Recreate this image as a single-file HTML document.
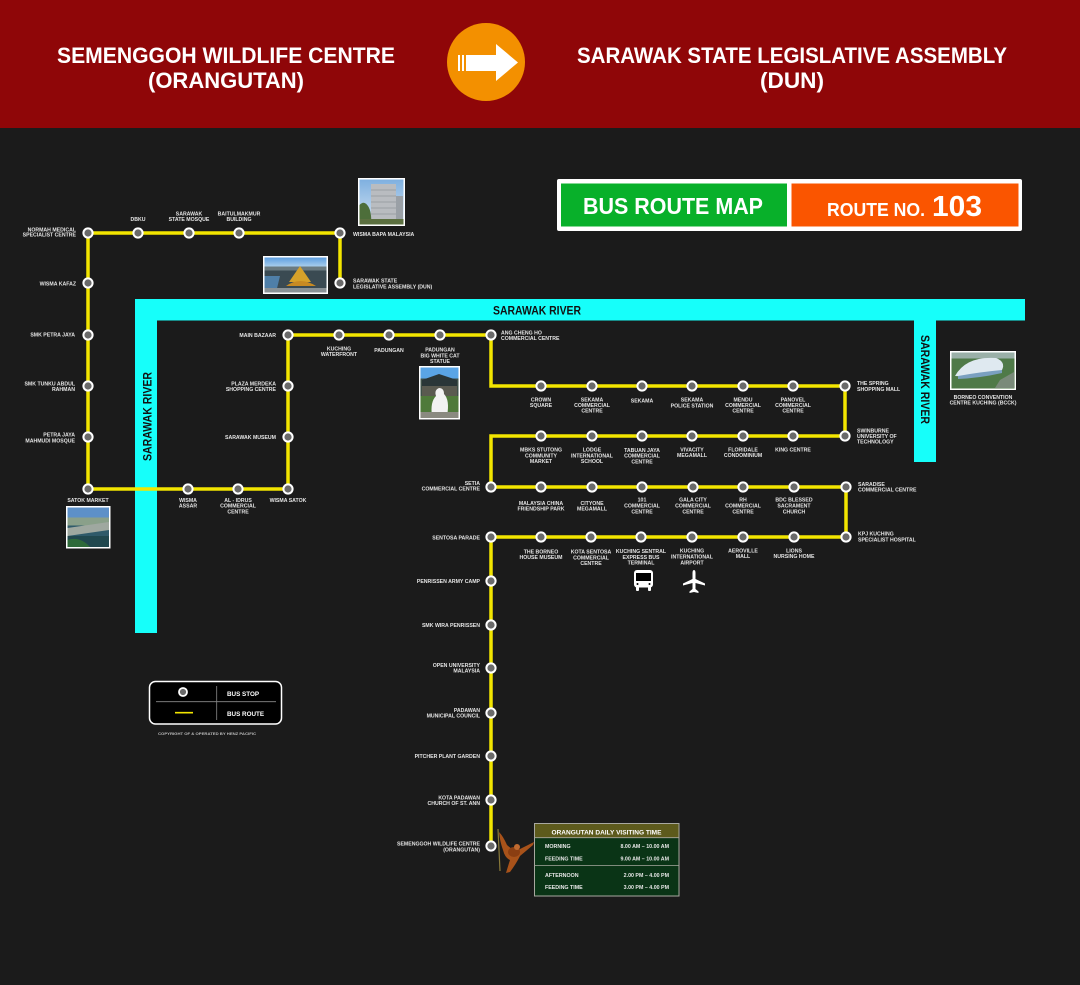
<!DOCTYPE html>
<html><head><meta charset="utf-8">
<style>
html,body{margin:0;padding:0;background:#1b1b1b;}
svg{display:block;}
.l{font-family:"Liberation Sans",sans-serif;font-weight:bold;font-size:5.2px;fill:#e4e4e4;}
.m{text-anchor:middle;}
.e{text-anchor:end;}
.h{font-family:"Liberation Sans",sans-serif;font-weight:bold;fill:#fff;}
</style></head>
<body>
<svg width="1080" height="985" viewBox="0 0 1080 985" xmlns="http://www.w3.org/2000/svg">
<rect x="0" y="0" width="1080" height="985" fill="#1b1b1b"/>
<!-- header -->
<rect x="0" y="0" width="1080" height="128" fill="#8f0608"/>
<text class="h" x="57" y="63" font-size="22" textLength="338" lengthAdjust="spacingAndGlyphs">SEMENGGOH WILDLIFE CENTRE</text>
<text class="h" x="148" y="88" font-size="22" textLength="156" lengthAdjust="spacingAndGlyphs">(ORANGUTAN)</text>
<text class="h" x="577" y="63" font-size="22" textLength="430" lengthAdjust="spacingAndGlyphs">SARAWAK STATE LEGISLATIVE ASSEMBLY</text>
<text class="h" x="760" y="88" font-size="22" textLength="64" lengthAdjust="spacingAndGlyphs">(DUN)</text>
<circle cx="486" cy="62" r="39" fill="#f39000"/>
<path d="M466,55 H496 V44 L518,62.5 L496,81 V71 H466 Z" fill="#fff"/>
<rect x="458" y="55" width="2" height="16" fill="#fff"/>
<rect x="462" y="55" width="2" height="16" fill="#fff"/>

<!-- bus route map box -->
<rect x="557" y="179" width="465" height="52" fill="#fff" rx="2"/>
<rect x="561" y="183.5" width="226" height="43" fill="#08b02a"/>
<rect x="791.5" y="183.5" width="227" height="43" fill="#fa5500"/>
<text class="h" x="583" y="214" font-size="23" textLength="180" lengthAdjust="spacingAndGlyphs">BUS ROUTE MAP</text>
<text class="h" x="827" y="216" font-size="18" textLength="98" lengthAdjust="spacingAndGlyphs">ROUTE NO.</text>
<text class="h" x="932" y="216" font-size="29" textLength="50" lengthAdjust="spacingAndGlyphs">103</text>

<!-- rivers -->
<g fill="#16fffa">
<rect x="135" y="299" width="890" height="21.5"/>
<rect x="135" y="299" width="22" height="334"/>
<rect x="914" y="299" width="22" height="163"/>
</g>
<text x="493" y="314.3" font-family="Liberation Sans,sans-serif" font-weight="bold" font-size="12" fill="#111" textLength="88" lengthAdjust="spacingAndGlyphs">SARAWAK RIVER</text>
<text transform="translate(151.7,461) rotate(-90)" x="0" y="0" font-family="Liberation Sans,sans-serif" font-weight="bold" font-size="12" fill="#111" textLength="89" lengthAdjust="spacingAndGlyphs">SARAWAK RIVER</text>
<text transform="translate(921,335) rotate(90)" x="0" y="0" font-family="Liberation Sans,sans-serif" font-weight="bold" font-size="12" fill="#111" textLength="89" lengthAdjust="spacingAndGlyphs">SARAWAK RIVER</text>

<!-- route -->
<path d="M340,283 V233 H88 V489 H288 V335 H491 V386 H845 V436 H491 V487 H846 V537 H491 V846" fill="none" stroke="#f2e500" stroke-width="3.5" stroke-linejoin="miter"/>

<!-- stops -->
<g fill="#6a6a6a" stroke="#fff" stroke-width="2">
<circle cx="88" cy="233" r="4.6"/><circle cx="138" cy="233" r="4.6"/><circle cx="189" cy="233" r="4.6"/><circle cx="239" cy="233" r="4.6"/><circle cx="340" cy="233" r="4.6"/><circle cx="340" cy="283" r="4.6"/>
<circle cx="88" cy="283" r="4.6"/><circle cx="88" cy="335" r="4.6"/><circle cx="88" cy="386" r="4.6"/><circle cx="88" cy="437" r="4.6"/><circle cx="88" cy="489" r="4.6"/>
<circle cx="188" cy="489" r="4.6"/><circle cx="238" cy="489" r="4.6"/><circle cx="288" cy="489" r="4.6"/>
<circle cx="288" cy="437" r="4.6"/><circle cx="288" cy="386" r="4.6"/><circle cx="288" cy="335" r="4.6"/>
<circle cx="339" cy="335" r="4.6"/><circle cx="389" cy="335" r="4.6"/><circle cx="440" cy="335" r="4.6"/><circle cx="491" cy="335" r="4.6"/>
<circle cx="541" cy="386" r="4.6"/><circle cx="592" cy="386" r="4.6"/><circle cx="642" cy="386" r="4.6"/><circle cx="692" cy="386" r="4.6"/><circle cx="743" cy="386" r="4.6"/><circle cx="793" cy="386" r="4.6"/><circle cx="845" cy="386" r="4.6"/>
<circle cx="845" cy="436" r="4.6"/><circle cx="793" cy="436" r="4.6"/><circle cx="743" cy="436" r="4.6"/><circle cx="692" cy="436" r="4.6"/><circle cx="642" cy="436" r="4.6"/><circle cx="592" cy="436" r="4.6"/><circle cx="541" cy="436" r="4.6"/>
<circle cx="491" cy="487" r="4.6"/><circle cx="541" cy="487" r="4.6"/><circle cx="592" cy="487" r="4.6"/><circle cx="642" cy="487" r="4.6"/><circle cx="693" cy="487" r="4.6"/><circle cx="743" cy="487" r="4.6"/><circle cx="794" cy="487" r="4.6"/><circle cx="846" cy="487" r="4.6"/>
<circle cx="846" cy="537" r="4.6"/><circle cx="794" cy="537" r="4.6"/><circle cx="743" cy="537" r="4.6"/><circle cx="692" cy="537" r="4.6"/><circle cx="641" cy="537" r="4.6"/><circle cx="591" cy="537" r="4.6"/><circle cx="541" cy="537" r="4.6"/><circle cx="491" cy="537" r="4.6"/>
<circle cx="491" cy="581" r="4.6"/><circle cx="491" cy="625" r="4.6"/><circle cx="491" cy="668" r="4.6"/><circle cx="491" cy="713" r="4.6"/><circle cx="491" cy="756" r="4.6"/><circle cx="491" cy="800" r="4.6"/><circle cx="491" cy="846" r="4.6"/>
</g>

<!-- labels -->
<g class="l">
<text class="e" x="76" y="231.3">NORMAH MEDICAL</text><text class="e" x="76" y="236.7">SPECIALIST CENTRE</text>
<text class="m" x="138" y="221">DBKU</text>
<text class="m" x="189" y="215.7">SARAWAK</text><text class="m" x="189" y="221">STATE MOSQUE</text>
<text class="m" x="239" y="215.7">BAITULMAKMUR</text><text class="m" x="239" y="221">BUILDING</text>
<text x="353" y="236">WISMA BAPA MALAYSIA</text>
<text x="353" y="282.7">SARAWAK STATE</text><text x="353" y="288.3">LEGISLATIVE ASSEMBLY (DUN)</text>
<text class="e" x="76" y="285.7">WISMA KAFAZ</text>
<text class="e" x="75" y="336.7">SMK PETRA JAYA</text>
<text class="e" x="75" y="385.3">SMK TUNKU ABDUL</text><text class="e" x="75" y="391">RAHMAN</text>
<text class="e" x="75" y="436.7">PETRA JAYA</text><text class="e" x="75" y="442.3">MAHMUDI MOSQUE</text>
<text class="m" x="88" y="502">SATOK MARKET</text>
<text class="m" x="188" y="502">WISMA</text><text class="m" x="188" y="507.7">ASSAR</text>
<text class="m" x="238" y="502">AL - IDRUS</text><text class="m" x="238" y="507.7">COMMERCIAL</text><text class="m" x="238" y="513.3">CENTRE</text>
<text class="m" x="288" y="502">WISMA SATOK</text>
<text class="e" x="276" y="337">MAIN BAZAAR</text>
<text class="e" x="276" y="385.3">PLAZA MERDEKA</text><text class="e" x="276" y="391">SHOPPING CENTRE</text>
<text class="e" x="276" y="439">SARAWAK MUSEUM</text>
<text class="m" x="339" y="350.7">KUCHING</text><text class="m" x="339" y="356">WATERFRONT</text>
<text class="m" x="389" y="352">PADUNGAN</text>
<text class="m" x="440" y="351.7">PADUNGAN</text><text class="m" x="440" y="357.3">BIG WHITE CAT</text><text class="m" x="440" y="363">STATUE</text>
<text x="501" y="334.3">ANG CHENG HO</text><text x="501" y="340">COMMERCIAL CENTRE</text>
<text class="m" x="541" y="401.3">CROWN</text><text class="m" x="541" y="407">SQUARE</text>
<text class="m" x="592" y="401.3">SEKAMA</text><text class="m" x="592" y="407">COMMERCIAL</text><text class="m" x="592" y="412.7">CENTRE</text>
<text class="m" x="642" y="402.7">SEKAMA</text>
<text class="m" x="692" y="401.7">SEKAMA</text><text class="m" x="692" y="407.7">POLICE STATION</text>
<text class="m" x="743" y="401.3">MENDU</text><text class="m" x="743" y="407">COMMERCIAL</text><text class="m" x="743" y="412.7">CENTRE</text>
<text class="m" x="793" y="401.3">PANOVEL</text><text class="m" x="793" y="407">COMMERCIAL</text><text class="m" x="793" y="412.7">CENTRE</text>
<text x="857" y="385">THE SPRING</text><text x="857" y="391">SHOPPING MALL</text>
<text x="857" y="432.3">SWINBURNE</text><text x="857" y="438">UNIVERSITY OF</text><text x="857" y="443.7">TECHNOLOGY</text>
<text class="m" x="541" y="451.7">MBKS STUTONG</text><text class="m" x="541" y="457.3">COMMUNITY</text><text class="m" x="541" y="463">MARKET</text>
<text class="m" x="592" y="451.7">LODGE</text><text class="m" x="592" y="457.3">INTERNATIONAL</text><text class="m" x="592" y="463">SCHOOL</text>
<text class="m" x="642" y="452">TABUAN JAYA</text><text class="m" x="642" y="457.7">COMMERCIAL</text><text class="m" x="642" y="463.3">CENTRE</text>
<text class="m" x="692" y="451.3">VIVACITY</text><text class="m" x="692" y="457">MEGAMALL</text>
<text class="m" x="743" y="451.7">FLORIDALE</text><text class="m" x="743" y="457">CONDOMINIUM</text>
<text class="m" x="793" y="451.7">KING CENTRE</text>
<text class="e" x="480" y="485">SETIA</text><text class="e" x="480" y="490.7">COMMERCIAL CENTRE</text>
<text class="m" x="541" y="505">MALAYSIA CHINA</text><text class="m" x="541" y="510.7">FRIENDSHIP PARK</text>
<text class="m" x="592" y="505">CITYONE</text><text class="m" x="592" y="510.7">MEGAMALL</text>
<text class="m" x="642" y="501.7">101</text><text class="m" x="642" y="507.7">COMMERCIAL</text><text class="m" x="642" y="513.3">CENTRE</text>
<text class="m" x="693" y="501.7">GALA CITY</text><text class="m" x="693" y="507.7">COMMERCIAL</text><text class="m" x="693" y="513.3">CENTRE</text>
<text class="m" x="743" y="501.7">RH</text><text class="m" x="743" y="507.7">COMMERCIAL</text><text class="m" x="743" y="513.3">CENTRE</text>
<text class="m" x="794" y="501.7">BDC BLESSED</text><text class="m" x="794" y="507.7">SACRAMENT</text><text class="m" x="794" y="513.3">CHURCH</text>
<text x="858" y="486">SARADISE</text><text x="858" y="491.3">COMMERCIAL CENTRE</text>
<text x="858" y="535.7">KPJ KUCHING</text><text x="858" y="541.3">SPECIALIST HOSPITAL</text>
<text class="e" x="480" y="539.3">SENTOSA PARADE</text>
<text class="m" x="541" y="553.3">THE BORNEO</text><text class="m" x="541" y="559">HOUSE MUSEUM</text>
<text class="m" x="591" y="553.7">KOTA SENTOSA</text><text class="m" x="591" y="559.3">COMMERCIAL</text><text class="m" x="591" y="565">CENTRE</text>
<text class="m" x="641" y="553">KUCHING SENTRAL</text><text class="m" x="641" y="559">EXPRESS BUS</text><text class="m" x="641" y="564.7">TERMINAL</text>
<text class="m" x="692" y="552.3">KUCHING</text><text class="m" x="692" y="558.3">INTERNATIONAL</text><text class="m" x="692" y="564.3">AIRPORT</text>
<text class="m" x="743" y="552.3">AEROVILLE</text><text class="m" x="743" y="558">MALL</text>
<text class="m" x="794" y="552.3">LIONS</text><text class="m" x="794" y="558">NURSING HOME</text>
<text class="e" x="480" y="583">PENRISSEN ARMY CAMP</text>
<text class="e" x="480" y="627">SMK WIRA PENRISSEN</text>
<text class="e" x="480" y="667">OPEN UNIVERSITY</text><text class="e" x="480" y="672.7">MALAYSIA</text>
<text class="e" x="480" y="712">PADAWAN</text><text class="e" x="480" y="717.3">MUNICIPAL COUNCIL</text>
<text class="e" x="480" y="758">PITCHER PLANT GARDEN</text>
<text class="e" x="480" y="799.3">KOTA PADAWAN</text><text class="e" x="480" y="805">CHURCH OF ST. ANN</text>
<text class="e" x="480" y="845.7">SEMENGGOH WILDLIFE CENTRE</text><text class="e" x="480" y="851.3">(ORANGUTAN)</text>
<text class="m" x="983" y="399">BORNEO CONVENTION</text><text class="m" x="983" y="404.7">CENTRE KUCHING (BCCK)</text>
</g>

<!-- photos -->
<defs>
<linearGradient id="sky1" x1="0" y1="0" x2="0" y2="1"><stop offset="0" stop-color="#7fb0e0"/><stop offset="1" stop-color="#d4e4f2"/></linearGradient>
<linearGradient id="sky2" x1="0" y1="0" x2="0" y2="1"><stop offset="0" stop-color="#5d9ee0"/><stop offset="1" stop-color="#a8cdeb"/></linearGradient>
</defs>
<!-- Wisma Bapa -->
<rect x="358" y="178" width="47" height="48" fill="#fff"/>
<rect x="359.5" y="179.5" width="44" height="45" fill="url(#sky1)"/>
<rect x="371" y="184" width="25" height="38" fill="#b9bcc0"/>
<g stroke="#7d8288" stroke-width="0.6"><line x1="371" y1="190" x2="396" y2="190"/><line x1="371" y1="196" x2="396" y2="196"/><line x1="371" y1="202" x2="396" y2="202"/><line x1="371" y1="208" x2="396" y2="208"/><line x1="371" y1="214" x2="396" y2="214"/></g>
<rect x="396" y="196" width="7" height="26" fill="#9aa0a6"/>
<path d="M359.5,224.5 V205 Q364,200 368,206 Q372,212 371,224.5 Z" fill="#4d6e3a"/>
<rect x="359.5" y="219" width="44" height="5.5" fill="#5c7040"/>
<!-- DUN -->
<rect x="263" y="256" width="65" height="38" fill="#fff"/>
<rect x="264.5" y="257.5" width="62" height="35" fill="#3a4a52"/>
<rect x="264.5" y="257.5" width="62" height="9" fill="url(#sky2)"/>
<rect x="264.5" y="266.5" width="62" height="4" fill="#6a7a80"/>
<path d="M289,282 L300,266 L311,282 Z" fill="#d6a12a"/>
<path d="M286,286 Q300,276 316,286 Z" fill="#c88a22"/>
<path d="M264.5,276 H280 L276,292.5 H264.5 Z" fill="#4f7fa8"/>
<rect x="264.5" y="288" width="62" height="4.5" fill="#8a9296"/>
<!-- Satok -->
<rect x="66" y="506" width="44.5" height="42.5" fill="#fff"/>
<rect x="67.5" y="507.5" width="41.5" height="39.5" fill="#2f5a6a"/>
<rect x="67.5" y="507.5" width="41.5" height="10" fill="#5d90c8"/>
<rect x="67.5" y="517.5" width="41.5" height="8" fill="#8aa08a"/>
<path d="M67.5,528 L109,522 V530 L67.5,536 Z" fill="#9fa8a0"/>
<rect x="67.5" y="536" width="41.5" height="11" fill="#21484f"/>
<path d="M67.5,540 Q80,536 90,547 H67.5 Z" fill="#2e6a3a"/>
<!-- Cat statue -->
<rect x="419" y="366" width="41" height="53.5" fill="#fff"/>
<rect x="420.5" y="367.5" width="38" height="50.5" fill="#3f5048"/>
<rect x="420.5" y="367.5" width="38" height="11" fill="#5aa5e6"/>
<path d="M422,380 L439,374 L457,380 V386 H422 Z" fill="#2a3638"/>
<rect x="422" y="386" width="35" height="14" fill="#5a5a50"/>
<rect x="420.5" y="396" width="38" height="22" fill="#4f7a3a"/>
<path d="M432,416 Q430,402 436,396 Q434,390 439,388 Q444,388 444,394 Q450,400 447,416 Z" fill="#f2f2f2"/>
<rect x="420.5" y="412" width="38" height="6" fill="#8a8a80"/>
<!-- BCCK -->
<rect x="950" y="351" width="66" height="39" fill="#fff"/>
<rect x="951.5" y="352.5" width="63" height="36" fill="#4f7a48"/>
<rect x="951.5" y="352.5" width="63" height="6" fill="#9ab0a8"/>
<path d="M955,376 Q966,356 996,358 Q1006,362 1002,370 Q984,378 955,376 Z" fill="#dfe9f0"/>
<path d="M958,376 Q980,372 1002,370 L1002,373 Q980,378 958,379 Z" fill="#7aa0c0"/>
<path d="M1000,380 L1014,372 V388 H995 Z" fill="#7a8a7a"/>

<!-- bus icon -->
<rect x="634" y="570" width="19" height="17.5" rx="3" fill="#fff"/>
<rect x="636" y="573" width="15" height="8" fill="#000"/>
<rect x="636" y="586" width="3" height="5" rx="1" fill="#fff"/>
<rect x="648" y="586" width="3" height="5" rx="1" fill="#fff"/>
<circle cx="637.5" cy="584" r="1" fill="#000"/><circle cx="649.5" cy="584" r="1" fill="#000"/>
<!-- plane icon -->
<path d="M694,570 Q695.5,570 695.5,573 V579 L705,583.5 V585.5 L695.5,583 V589 L698.5,591.5 V593 L694,592 L689.5,593 V591.5 L692.5,589 V583 L683,585.5 V583.5 L692.5,579 V573 Q692.5,570 694,570 Z" fill="#fff"/>

<!-- legend -->
<rect x="149.5" y="681.5" width="132" height="42.5" rx="6" fill="#000" stroke="#fff" stroke-width="1.5"/>
<line x1="156" y1="701.7" x2="276" y2="701.7" stroke="#8a8a8a" stroke-width="0.8"/>
<line x1="216.7" y1="686" x2="216.7" y2="720" stroke="#8a8a8a" stroke-width="0.8"/>
<circle cx="183" cy="692" r="4" fill="#6a6a6a" stroke="#fff" stroke-width="1.8"/>
<line x1="175" y1="712.7" x2="193" y2="712.7" stroke="#f2e500" stroke-width="1.6"/>
<text x="227" y="696" font-family="Liberation Sans,sans-serif" font-weight="bold" font-size="6.3" fill="#fff">BUS STOP</text>
<text x="227" y="716" font-family="Liberation Sans,sans-serif" font-weight="bold" font-size="6.3" fill="#fff">BUS ROUTE</text>
<text x="158" y="735" font-family="Liberation Sans,sans-serif" font-weight="bold" font-size="4" fill="#bbb" textLength="98" lengthAdjust="spacingAndGlyphs">COPYRIGHT OF &amp; OPERATED BY HENZ PACIFIC</text>

<!-- orangutan -->
<g>
<line x1="498" y1="829" x2="500" y2="871" stroke="#8a7a3a" stroke-width="1.2"/>
<path d="M499,832 Q503,836 507,845 Q512,850 518,850 Q526,846 534,842 L533,845 Q526,851 520,856 Q516,864 510,872 L506,873 Q508,866 510,860 Q505,858 503,850 Q500,842 499,832 Z" fill="#a8521a"/>
<ellipse cx="514" cy="852" rx="6" ry="5" fill="#8a3e12"/>
<circle cx="517" cy="847" r="3" fill="#c06a30"/>
</g>

<!-- orangutan table -->
<rect x="534.5" y="823.5" width="144.5" height="72.5" fill="#0a3416" stroke="#a8a8a0" stroke-width="1"/>
<rect x="535" y="824" width="143.5" height="13.5" fill="#5d5a1c"/>
<line x1="535" y1="837.7" x2="678.5" y2="837.7" stroke="#a8a8a0" stroke-width="0.8"/>
<line x1="535" y1="865.5" x2="678.5" y2="865.5" stroke="#a8a8a0" stroke-width="0.8"/>
<text x="606.5" y="834.3" text-anchor="middle" font-family="Liberation Sans,sans-serif" font-weight="bold" font-size="6.6" fill="#fff" textLength="110" lengthAdjust="spacingAndGlyphs">ORANGUTAN DAILY VISITING TIME</text>
<g font-family="Liberation Sans,sans-serif" font-weight="bold" font-size="5.3" fill="#e8e8e8">
<text x="545" y="848">MORNING</text><text x="669" y="848" text-anchor="end">8.00 AM – 10.00 AM</text>
<text x="545" y="860.3">FEEDING TIME</text><text x="669" y="860.3" text-anchor="end">9.00 AM – 10.00 AM</text>
<text x="545" y="877">AFTERNOON</text><text x="669" y="877" text-anchor="end">2.00 PM – 4.00 PM</text>
<text x="545" y="889">FEEDING TIME</text><text x="669" y="889" text-anchor="end">3.00 PM – 4.00 PM</text>
</g>
</svg>
</body></html>
